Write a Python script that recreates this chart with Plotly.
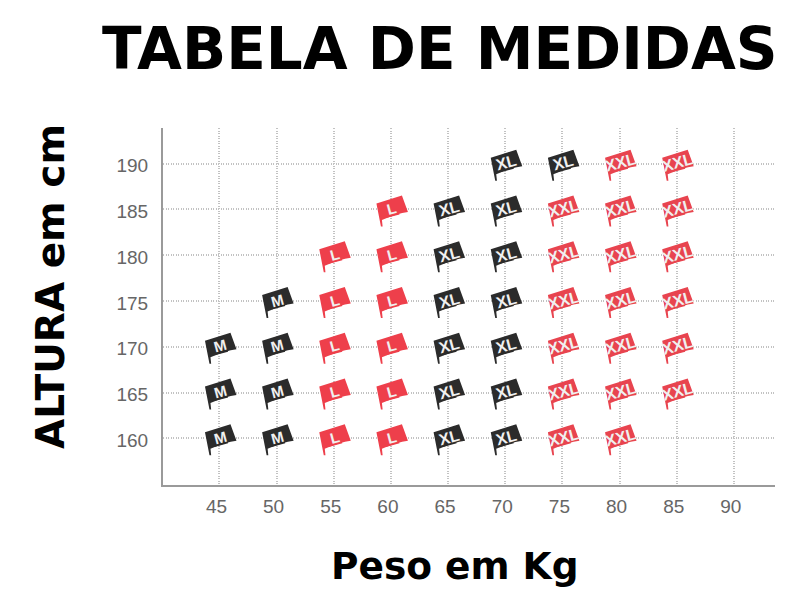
import plotly.graph_objects as go

weight_ticks = [45, 50, 55, 60, 65, 70, 75, 80, 85, 90]
height_ticks = [160, 165, 170, 175, 180, 185, 190]

m_weight = [45, 45, 45, 50, 50, 50, 50]
m_height = [160, 165, 170, 160, 165, 170, 175]
l_weight = [55, 55, 55, 55, 55, 60, 60, 60, 60, 60, 60]
l_height = [160, 165, 170, 175, 180, 160, 165, 170, 175, 180, 185]
xl_weight = [65, 65, 65, 65, 65, 65, 70, 70, 70, 70, 70, 70, 70, 75]
xl_height = [160, 165, 170, 175, 180, 185, 160, 165, 170, 175, 180, 185, 190, 190]
xxl_weight = [75, 75, 75, 75, 75, 75, 80, 80, 80, 80, 80, 80, 80, 85, 85, 85, 85, 85, 85]
xxl_height = [160, 165, 170, 175, 180, 185, 160, 165, 170, 175, 180, 185, 190, 165, 170, 175, 180, 185, 190]

series = [
    ("M", m_weight, m_height, "#2b2b2b", "Liberation Sans", 15),
    ("L", l_weight, l_height, "#ee3f4b", "Liberation Sans", 15),
    ("XL", xl_weight, xl_height, "#2b2b2b", "Liberation Sans Narrow, Liberation Sans", 16),
    ("XXL", xxl_weight, xxl_height, "#e8444f", "Liberation Sans Narrow, Liberation Sans", 16),
]

# flag outline in pixels around the anchored data point (y up)
FLAG = ("M -14.5 6 Q -5 9 3 11.5 Q 7 13 11 14 L 17 -2.5 Q 6 -4 -9 -10.5 "
        "L -8.3 -17 L -10 -17 Z")

fig = go.Figure()
shapes, annotations = [], []
for name, xs, ys, color, family, fsize in series:
    fig.add_trace(go.Scatter(
        x=xs, y=ys, mode="markers", name=name,
        marker=dict(symbol="square", size=14, angle=-15, color=color),
    ))
    for x, y in zip(xs, ys):
        shapes.append(dict(type="path", path=FLAG, xref="x", yref="y",
                           xsizemode="pixel", ysizemode="pixel",
                           xanchor=x, yanchor=y, fillcolor=color,
                           line=dict(width=0), layer="above"))
        annotations.append(dict(x=x, y=y, xref="x", yref="y", text=name,
                                showarrow=False, textangle=-15, xshift=1, yshift=1,
                                font=dict(family=family, size=fsize, weight=700,
                                          color="#f0f0f0")))

annotations.append(dict(x=0, y=0, xref="paper", yref="paper", text="Peso em Kg",
                        showarrow=False, xanchor="center", yanchor="middle",
                        xshift=455 - 163, yshift=485 - 566,
                        font=dict(family="DejaVu Sans", size=37.5, weight=700, color="#000000")))
annotations.append(dict(x=0, y=0, xref="paper", yref="paper", text="ALTURA em cm",
                        showarrow=False, xanchor="center", yanchor="middle", textangle=-90,
                        xshift=50 - 163, yshift=485 - 287,
                        font=dict(family="DejaVu Sans", size=39, weight=700, color="#000000")))

# the page adds an 8px body margin, so the figure is 792x592
fig.update_layout(
    width=792, height=592, autosize=False, showlegend=False,
    paper_bgcolor="white", plot_bgcolor="white",
    margin=dict(l=155, r=25, t=120, b=115),
    shapes=shapes, annotations=annotations,
    title=dict(text="TABELA DE MEDIDAS", x=94 / 792, xanchor="left",
               y=1 - 41 / 592, yanchor="middle", yref="container",
               font=dict(family="DejaVu Sans", size=58, weight=700, color="#000000")),
)

axis_common = dict(showgrid=True, gridcolor="#c2c2c2", gridwidth=1.5, griddash="1px,1.5px",
                   zeroline=False, showline=True, linecolor="#9a9a9a", linewidth=2,
                   ticks="", tickfont=dict(family="Liberation Sans", size=19, color="#666666"))
fig.update_xaxes(range=[40.06, 93.6], tickmode="array", tickvals=weight_ticks,
                 ticklabelstandoff=3, ticklabelshift=-3, **axis_common)
fig.update_yaxes(range=[154.9, 193.9], tickmode="array", tickvals=height_ticks,
                 ticklabelstandoff=9, ticklabelshift=2, **axis_common)
fig.write_html("out.html")
